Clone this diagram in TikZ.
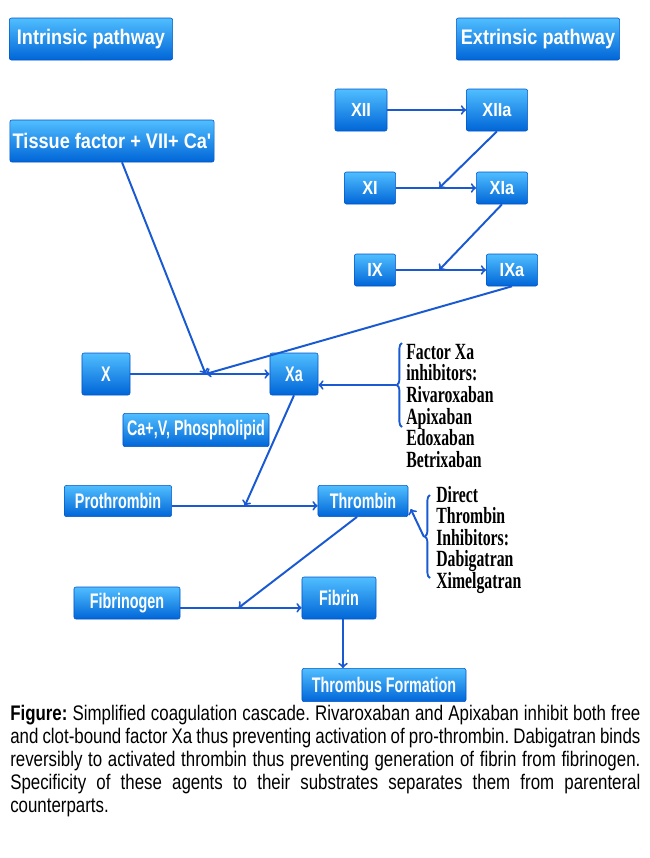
\documentclass[tikz,border=0pt]{standalone}
\usepackage{fontspec}
\setmainfont{Liberation Serif}
\newfontfamily\boxfont[FakeStretch=0.86]{Liberation Sans}
\newfontfamily\narrowfont[FakeStretch=0.68]{Liberation Sans}
\newfontfamily\capfont[FakeStretch=0.8]{Liberation Sans}
\newfontfamily\inhfont[FakeStretch=0.68]{Liberation Serif}
\usetikzlibrary{decorations.pathreplacing}

\definecolor{boxblue}{RGB}{0,115,245}
\definecolor{boxtop}{RGB}{80,190,255}
\definecolor{boxedge}{RGB}{0,85,200}
\definecolor{linkblue}{RGB}{25,90,210}

\begin{document}
\begin{tikzpicture}
                [
                    x=0.025cm, y=-0.025cm,
                    factor/.style = {rectangle, draw=boxedge, top color=boxtop, middle color=boxblue, bottom color=boxblue!88!black, text=white, font=\boxfont\bfseries\fontsize{13.5}{15}\selectfont, minimum height=1.05cm, inner sep=2pt, rounded corners=0.05cm},
                    small/.style = {factor, minimum height=0.8cm},
                    wide/.style = {font=\boxfont\bfseries\fontsize{15}{17}\selectfont},
                    narrow/.style = {font=\narrowfont\bfseries\fontsize{15}{17}\selectfont},
                    inhib/.style = {align=left, inner sep=0pt, anchor=north west, font=\inhfont\bfseries\fontsize{16.5}{15.3}\selectfont},
                    brace/.style = {draw=linkblue, line width=1.3pt, decorate, decoration={brace, amplitude=0.13cm}},
                    arrow/.style = {line width=1.4pt, draw=linkblue, ->, >=to}
                ]
                \useasboundingbox (0,0) rectangle (650,858);

                \node (intr) [factor, wide, minimum width=4.08cm] at (91,39) {Intrinsic pathway};
                \node (extr) [factor, wide, minimum width=4.08cm] at (538,39) {Extrinsic pathway};
                \node (tf) [factor, wide, minimum width=5.1cm] at (112,141) {Tissue factor + VII+ Ca'};

                \node (xii) [factor, minimum width=1.3cm] at (361,110) {XII};
                \node (xiia) [factor, minimum width=1.53cm] at (497,110) {XIIa};
                \node (xi) [small, minimum width=1.28cm] at (370,188) {XI};
                \node (xia) [small, minimum width=1.28cm] at (502,188) {XIa};
                \node (ix) [small, minimum width=1.03cm] at (375,270) {IX};
                \node (ixa) [small, minimum width=1.28cm] at (512,270) {IXa};

                \node (x) [factor, narrow, minimum width=1.2cm] at (106,374) {X};
                \node (xa) [factor, narrow, minimum width=1.2cm] at (294,374) {Xa};
                \node (cofac) [small, narrow, minimum width=3.65cm, minimum height=0.83cm] at (196,430) {Ca+,V, Phospholipid};

                \node (proth) [small, narrow, minimum width=2.68cm, minimum height=0.78cm] at (118,501) {Prothrombin};
                \node (thr) [small, narrow, minimum width=2.25cm, minimum height=0.78cm] at (363,501) {Thrombin};
                \node (fbg) [small, narrow, minimum width=2.65cm] at (127,603) {Fibrinogen};
                \node (fib) [factor, narrow, minimum width=1.85cm] at (339,598) {Fibrin};
                \node (thform) [small, narrow, minimum width=4.1cm, minimum height=0.83cm] at (384,685) {Thrombus Formation};

                % extrinsic cascade
                \draw[arrow] (xii) -- (xiia);
                \draw[arrow] (xi) -- coordinate[pos=0.54] (jxi) (xia);
                \draw[arrow] (xiia.south) -- (jxi);
                \draw[arrow] (ix) -- coordinate[pos=0.48] (jix) (ixa);
                \draw[arrow] (xia.south) -- (jix);

                % common pathway
                \draw[arrow] (x) -- coordinate[pos=0.54] (jx) (xa);
                \draw[arrow] (ixa.south) -- (jx);
                \draw[arrow] ([xshift=0.25cm]tf.south) -- (jx);
                \draw[arrow] ([yshift=-0.12cm]proth.east) -- coordinate[pos=0.5] (jpr) ([yshift=-0.12cm]thr.west);
                \draw[arrow] (xa.south) -- (jpr);
                \draw[arrow] ([yshift=-0.12cm]fbg.east) -- coordinate[pos=0.48] (jfb) ([yshift=-0.12cm]fbg.east -| fib.west);
                \draw[arrow] ([xshift=-0.15cm]thr.south) -- (jfb);
                \draw[arrow] ([xshift=0.1cm]fib.south) -- ([xshift=0.1cm]fib.south |- thform.north);

                % inhibitors
                \coordinate (xbtop) at (402,343);
                \coordinate (xbbot) at (402,427);
                \coordinate (xbtip) at (396,385);
                \draw[brace] (xbbot) -- (xbtop);
                \draw[arrow] (xbtip) -- (xbtip -| xa.east);
                \node (xinh) [inhib] at (406,344) {Factor Xa\\inhibitors:\\Rivaroxaban\\Apixaban\\Edoxaban\\Betrixaban};

                \coordinate (tbtop) at (430,495);
                \coordinate (tbbot) at (430,578);
                \coordinate (tbtip) at (424,537);
                \draw[brace] (tbbot) -- (tbtop);
                \draw[arrow] (tbtip) -- ([xshift=0.06cm,yshift=-0.2cm]thr.east);
                \node (tinh) [inhib] at (436,486) {Direct\\Thrombin\\Inhibitors:\\Dabigatran\\Ximelgatran};

                \node (cap) [anchor=north west, text width=15.75cm, align=justify, inner sep=0pt, font=\capfont\fontsize{15}{16.3}\selectfont\frenchspacing] at (10,705)
                    {\textbf{Figure:} Simplified coagulation cascade. Rivaroxaban and Apixaban inhibit both free\linebreak
                     and clot-bound factor Xa thus preventing activation of pro-thrombin. Dabigatran binds\linebreak
                     reversibly to activated thrombin thus preventing generation of fibrin from fibrinogen.\linebreak
                     Specificity of these agents to their substrates separates them from parenteral\linebreak
                     counterparts.};

            \end{tikzpicture}
\end{document}
